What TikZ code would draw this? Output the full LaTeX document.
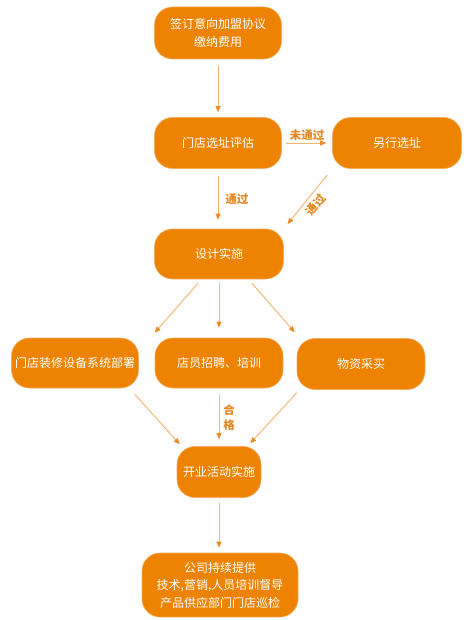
\documentclass[tikz,border=0pt]{standalone}
\usepackage{fontspec}
\setmainfont{Noto Sans CJK SC}
\usepackage{tikz}
\usetikzlibrary{calc,arrows.meta}
\definecolor{boxorange}{RGB}{237,131,0}
\definecolor{boxedge}{RGB}{245,172,90}
\definecolor{flowline}{RGB}{242,180,110}
\definecolor{flowtip}{RGB}{236,140,35}
\definecolor{condtext}{RGB}{228,136,36}
\tikzset{%
  stage/.style={rectangle, rounded corners=18pt, fill=boxorange, draw=boxedge,
    line width=0.6pt, text=white, inner sep=0pt, align=center,
    font=\fontsize{12}{17.5}\selectfont},% process step
  flow/.style={draw=flowline, line width=0.9pt,
    -{Triangle[length=6pt,width=5pt,fill=flowtip,color=flowtip]}},% connector
  cond/.style={text=condtext, font=\fontsize{11.5}{15}\selectfont\bfseries,
    inner sep=1pt}% condition at connector
}

\begin{document}
\begin{tikzpicture}[x=1pt,y=-1pt]
\useasboundingbox[fill=white] (0,0) rectangle (471,620);

\node[stage, minimum width=127pt, minimum height=52pt] (sign) at (218,33) {签订意向加盟协议\\缴纳费用};
\node[stage, minimum width=127pt, minimum height=51pt] (eval) at (218,143) {门店选址评估};
\node[stage, minimum width=129pt, minimum height=51pt] (alt) at (397,143) {另行选址};
\node[stage, minimum width=129pt, minimum height=50pt] (design) at (219,254) {设计实施};
\node[stage, minimum width=127pt, minimum height=50pt] (install) at (75,363) {门店装修设备系统部署};
\node[stage, minimum width=128pt, minimum height=50pt] (staff) at (219,363) {店员招聘、培训};
\node[stage, minimum width=128pt, minimum height=51pt] (supply) at (361,364) {物资采买};
\node[stage, minimum width=84pt, minimum height=51pt] (open) at (219,472) {开业活动实施};
\node[stage, minimum width=156pt, minimum height=64pt] (final) at (220,585) {公司持续提供\\技术,营销,人员培训督导\\产品供应部门门店巡检};

\draw[flow, shorten <=7pt, shorten >=5pt] (sign) -- (eval);
\draw[flow, shorten <=4pt, shorten >=6pt] (eval) -- node[cond, above=1pt] {未通过} (alt);
\draw[flow, shorten <=7pt, shorten >=9pt] (eval.south) -- (eval.south |- design.north)
  node[cond, pos=0.5, right=6pt] {通过};
\draw[flow, shorten <=8pt, shorten >=6pt] (alt.south west) -- node[cond, sloped, below=3pt] {通过} (design.north east);

\draw[flow] ($(design.south)+(-21,4)$) -- ($(staff.north west)+(0,-5)$);
\draw[flow, shorten <=4pt, shorten >=10pt] (design.south) -- (staff.north);
\draw[flow] ($(design.south)+(33,4)$) -- ($(supply.north west)+(-2,-6)$);

\draw[flow] ($(install.south east)+(-4,6)$) -- ($(open.north west)+(3,-2)$);
\draw[flow, shorten <=7pt, shorten >=7pt] (staff.south) -- node[cond, right=3pt, align=center] {合\\格} (open.north);
\draw[flow] ($(supply.south west)+(0,3)$) -- ($(open.north east)+(-11,-3)$);

\draw[flow, shorten <=5pt, shorten >=5pt] (open.south) -- (open.south |- final.north);

\end{tikzpicture}
\end{document}
